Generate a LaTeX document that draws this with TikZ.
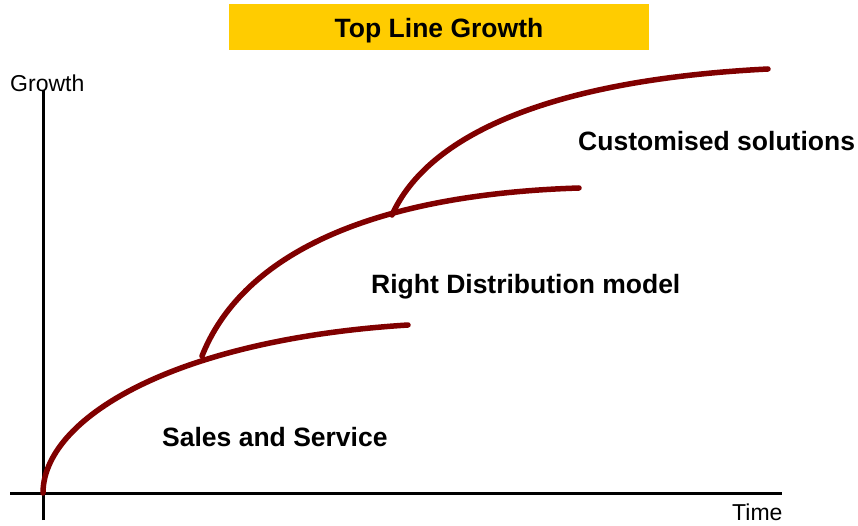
\documentclass[tikz,border=0pt]{standalone}
\usepackage{fontspec}
\setmainfont{Liberation Sans}
\usepackage{tikz}

\definecolor{maroonline}{HTML}{800000}
\definecolor{titlegold}{HTML}{FFCC00}

\tikzset{
	axis/.style={line width=3pt, black},
	curve/.style={line width=5.5pt, maroonline, line cap=round},
	phase/.style={anchor=base west, inner sep=0pt, font=\fontsize{26.5}{30}\selectfont\bfseries},
	axislabel/.style={anchor=base west, inner sep=0pt, font=\fontsize{23}{27}\selectfont}
}

\begin{document}
\begin{tikzpicture}[x=1pt, y=-1pt]
	
	\useasboundingbox (0, 0) rectangle (858, 526);
	
	\node[fill=titlegold, minimum width=420pt, minimum height=46pt, inner sep=0pt,
	      text height=22pt, text depth=0pt,
	      font=\fontsize{26.5}{30}\selectfont\bfseries] (title) at (439, 27) {Top Line Growth};
	
	\coordinate (yb) at (43, 520);
	\coordinate (yt) at (43, 90);
	\coordinate (xl) at (10, 493);
	\coordinate (xr) at (782, 493);
	
	\node[axislabel] (growth) at (10, 92)   {Growth};
	\node[axislabel] (time)   at (732, 520) {Time};
	
	\coordinate (s1) at (43, 493);
	\coordinate (e1) at (408, 325);
	\coordinate (s2) at (202, 356);
	\coordinate (e2) at (579, 188);
	\coordinate (s3) at (392, 215);
	\coordinate (e3) at (768, 69);
	
	\path[axis] (yb) edge (yt);
	\path[axis] (xl) edge (xr);
	
	\draw[curve] (s1) .. controls (43, 420) and (170, 340) .. (e1);
	\draw[curve] (s2) .. controls (240, 260) and (360, 195) .. (e2);
	\draw[curve] (s3) .. controls (428, 135) and (550, 80) .. (e3);
	
	\node[phase] (sales)  at (162, 446) {Sales and Service};
	\node[phase] (distr)  at (371, 293) {Right Distribution model};
	\node[phase] (custom) at (578, 151) {Customised solutions};
	
\end{tikzpicture}
\end{document}
